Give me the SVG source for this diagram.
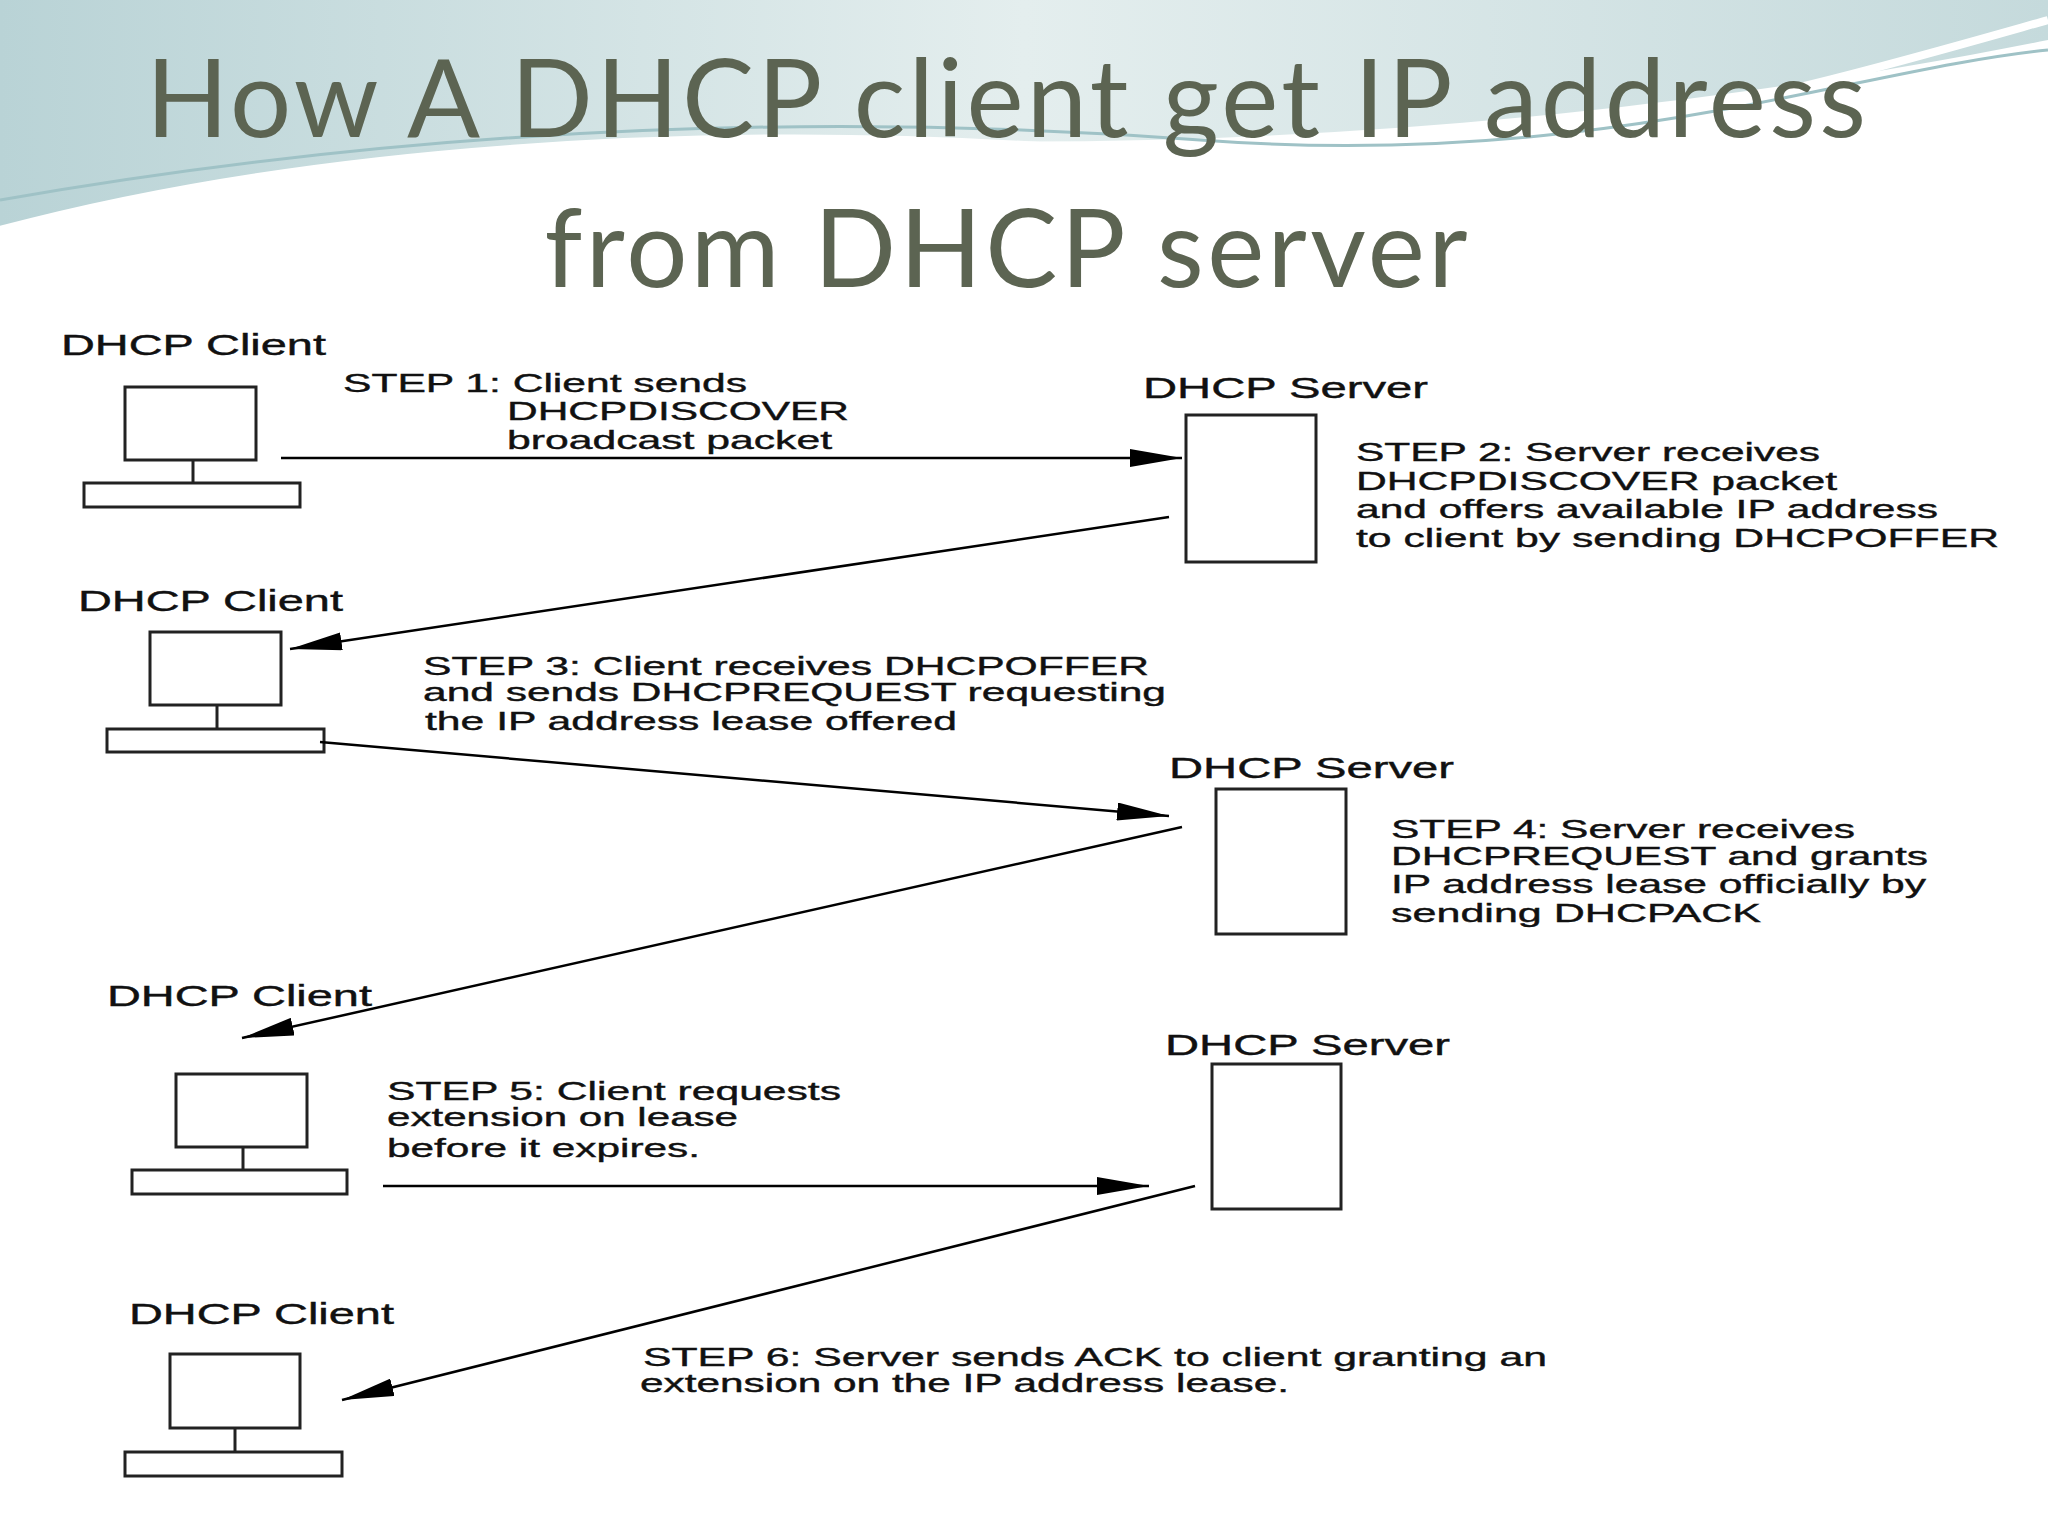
<svg xmlns="http://www.w3.org/2000/svg" width="2048" height="1536" viewBox="0 0 2048 1536">
<defs>
<marker id="ah" markerWidth="52" markerHeight="18" refX="52" refY="9" orient="auto" markerUnits="userSpaceOnUse" viewBox="0 0 52 18">
<path d="M0,0 L52,9 L0,18 Z" fill="#000"/>
</marker>
<linearGradient id="bg" x1="0" y1="0" x2="1" y2="0">
<stop offset="0" stop-color="#b9d3d6"/><stop offset="0.5" stop-color="#e4eeee"/><stop offset="1" stop-color="#c5dadc"/>
</linearGradient>
</defs>
<style>
.t{font-family:"Liberation Sans",Arial,sans-serif;font-size:26px;fill:#111;stroke:#111;stroke-width:0.4}
.l{font-family:"Liberation Sans",Arial,sans-serif;font-size:29px;fill:#111;stroke:#111;stroke-width:0.4}
.title{font-family:Lato,"Open Sans",sans-serif;font-size:108px;fill:#5c6452;text-anchor:middle}
.box{fill:#fff;stroke:#222;stroke-width:3}
.c line{stroke:#000;stroke-width:2.5;marker-end:url(#ah)}
</style>
<rect width="2048" height="1536" fill="#fff"/>
<g id="background">
<path d="M0,0 H2048 V40 C1700,110 1300,150 900,140 C500,130 200,170 0,230 Z" fill="url(#bg)"/>
<path d="M0,230 C300,150 700,120 1100,150 C1500,180 1800,90 2048,20" fill="none" stroke="#fff" stroke-width="8"/>
<path d="M0,200 C400,130 800,110 1200,140 C1600,170 1850,70 2048,50" fill="none" stroke="#9fc2c6" stroke-width="3"/>
<rect x="0" y="290" width="2048" height="1246" fill="#fff"/>
</g>
<g id="title">
<text class="title" x="1006" y="137" textLength="1720">How A DHCP client get IP address</text>
<text class="title" x="1006" y="287" textLength="923">from DHCP server</text>
</g>
<g id="client1"><text class="l" x="61" y="355" textLength="265" lengthAdjust="spacingAndGlyphs">DHCP Client</text><rect class="box" x="125" y="387" width="131" height="73"/><line x1="193" y1="460" x2="193" y2="483" stroke="#222" stroke-width="3"/><rect class="box" x="84" y="483" width="216" height="24"/></g>
<g id="client2"><text class="l" x="78" y="611" textLength="265" lengthAdjust="spacingAndGlyphs">DHCP Client</text><rect class="box" x="150" y="632" width="131" height="73"/><line x1="217" y1="705" x2="217" y2="729" stroke="#222" stroke-width="3"/><rect class="box" x="107" y="729" width="217" height="23"/></g>
<g id="client3"><text class="l" x="107" y="1006" textLength="265" lengthAdjust="spacingAndGlyphs">DHCP Client</text><rect class="box" x="176" y="1074" width="131" height="73"/><line x1="243" y1="1147" x2="243" y2="1170" stroke="#222" stroke-width="3"/><rect class="box" x="132" y="1170" width="215" height="24"/></g>
<g id="client4"><text class="l" x="129" y="1324" textLength="265" lengthAdjust="spacingAndGlyphs">DHCP Client</text><rect class="box" x="170" y="1354" width="130" height="74"/><line x1="235" y1="1428" x2="235" y2="1452" stroke="#222" stroke-width="3"/><rect class="box" x="125" y="1452" width="217" height="24"/></g>
<g id="server1"><text class="l" x="1143" y="398" textLength="285" lengthAdjust="spacingAndGlyphs">DHCP Server</text><rect class="box" x="1186" y="415" width="130" height="147"/></g>
<g id="server2"><text class="l" x="1169" y="778" textLength="285" lengthAdjust="spacingAndGlyphs">DHCP Server</text><rect class="box" x="1216" y="789" width="130" height="145"/></g>
<g id="server3"><text class="l" x="1165" y="1055" textLength="285" lengthAdjust="spacingAndGlyphs">DHCP Server</text><rect class="box" x="1212" y="1064" width="129" height="145"/></g>
<g id="labels">
<text class="t" x="343" y="392" textLength="404" lengthAdjust="spacingAndGlyphs">STEP 1: Client sends</text>
<text class="t" x="507" y="420" textLength="342" lengthAdjust="spacingAndGlyphs">DHCPDISCOVER</text>
<text class="t" x="507" y="449" textLength="325" lengthAdjust="spacingAndGlyphs">broadcast packet</text>
<text class="t" x="1356" y="461" textLength="464" lengthAdjust="spacingAndGlyphs">STEP 2: Server receives</text>
<text class="t" x="1356" y="490" textLength="481" lengthAdjust="spacingAndGlyphs">DHCPDISCOVER packet</text>
<text class="t" x="1356" y="518" textLength="582" lengthAdjust="spacingAndGlyphs">and offers available IP address</text>
<text class="t" x="1356" y="547" textLength="643" lengthAdjust="spacingAndGlyphs">to client by sending DHCPOFFER</text>
<text class="t" x="423" y="675" textLength="726" lengthAdjust="spacingAndGlyphs">STEP 3: Client receives DHCPOFFER</text>
<text class="t" x="423" y="701" textLength="743" lengthAdjust="spacingAndGlyphs">and sends DHCPREQUEST requesting</text>
<text class="t" x="425" y="730" textLength="532" lengthAdjust="spacingAndGlyphs">the IP address lease offered</text>
<text class="t" x="1391" y="838" textLength="464" lengthAdjust="spacingAndGlyphs">STEP 4: Server receives</text>
<text class="t" x="1391" y="865" textLength="537" lengthAdjust="spacingAndGlyphs">DHCPREQUEST and grants</text>
<text class="t" x="1391" y="893" textLength="535" lengthAdjust="spacingAndGlyphs">IP address lease officially by</text>
<text class="t" x="1391" y="922" textLength="370" lengthAdjust="spacingAndGlyphs">sending DHCPACK</text>
<text class="t" x="387" y="1100" textLength="454" lengthAdjust="spacingAndGlyphs">STEP 5: Client requests</text>
<text class="t" x="387" y="1126" textLength="351" lengthAdjust="spacingAndGlyphs">extension on lease</text>
<text class="t" x="387" y="1157" textLength="313" lengthAdjust="spacingAndGlyphs">before it expires.</text>
<text class="t" x="643" y="1366" textLength="904" lengthAdjust="spacingAndGlyphs">STEP 6: Server sends ACK to client granting an</text>
<text class="t" x="640" y="1392" textLength="649" lengthAdjust="spacingAndGlyphs">extension on the IP address lease.</text>
</g>
<g id="connectors" class="c">
<line x1="281" y1="458" x2="1182" y2="458"/>
<line x1="1169" y1="517" x2="290" y2="649"/>
<line x1="320" y1="742" x2="1169" y2="816"/>
<line x1="1182" y1="827" x2="242" y2="1038"/>
<line x1="383" y1="1186" x2="1149" y2="1186"/>
<line x1="1195" y1="1186" x2="342" y2="1400"/>
</g>
</svg>
